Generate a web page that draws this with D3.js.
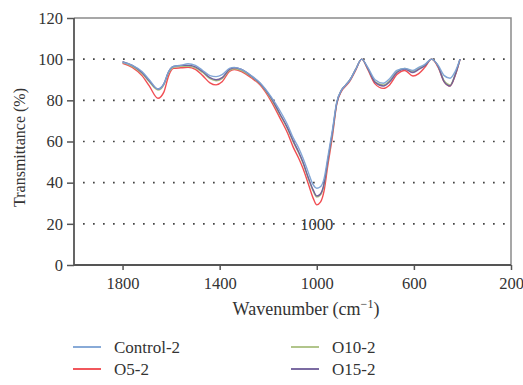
<!DOCTYPE html>
<html>
<head>
<meta charset="utf-8">
<script src="https://cdn.jsdelivr.net/npm/d3@7/dist/d3.min.js"></script>
<style>
  html, body { margin: 0; padding: 0; background: #fff; }
  svg { display: block; }
  text { font-family: "Liberation Serif", "DejaVu Serif", serif; fill: #333; }
</style>
</head>
<body>
<svg id="chart" width="523" height="385"></svg>
<script>
// FTIR spectra: wavenumber (cm-1) and transmittance (%) for each sample
const wavenumbers = [1800, 1760, 1720, 1690, 1654, 1630, 1610, 1590, 1560, 1530, 1500, 1470, 1440, 1415, 1390, 1360, 1340, 1310, 1270, 1234, 1190, 1152, 1120, 1098, 1075, 1057, 1035, 1015, 1000, 985, 970, 955, 935, 918, 898, 880, 863, 840, 815, 790, 760, 726, 700, 670, 637, 604, 580, 555, 527, 500, 475, 451, 430, 410];

const control2 = [98.5, 97, 94, 90, 85.5, 88, 94, 96.5, 97, 97.8, 97, 94.5, 92, 91.5, 92.5, 95.5, 96, 95, 92, 88.5, 82, 75, 68, 62, 57, 52, 45, 39, 37.3, 38, 42, 52, 66, 79, 85, 87.5, 90, 95, 100, 96, 90, 88.3, 90.5, 94.5, 95.5, 94.5, 96, 97.5, 100, 97, 92, 90.7, 94, 100];
const o5_2 = [98, 96, 92, 87, 81, 84, 92, 95.5, 95.8, 96, 95, 92, 88.5, 87.5, 89, 94, 95, 94, 91, 87.5, 80, 71.5, 64, 57.5, 52, 47, 39.5, 32.5, 29.2, 30.5, 36, 48, 63, 78, 84.5, 87, 89.5, 94.5, 100, 95, 88, 85.8, 87.5, 92.5, 94.5, 91.8, 93, 96, 100, 96, 89, 87, 92, 100];
const o10_2 = [98.5, 96.5, 93, 89, 85, 87.5, 93.5, 96, 96.5, 96.5, 95.8, 93.5, 90.5, 89.5, 90.5, 94.5, 95.3, 94.5, 91.5, 88, 81, 73, 66, 60, 54.5, 49.5, 42, 36, 33, 34, 39, 50, 64.5, 78.5, 85, 87.5, 90, 95, 100, 95.5, 89, 87.5, 89.5, 94, 95.5, 94, 95.5, 97, 100, 96.5, 89.5, 87.5, 92.5, 100];
const o15_2 = [98.8, 97, 93.5, 89.5, 85.5, 88, 94, 96.5, 97, 97, 96.3, 94, 91, 90, 91, 95, 95.8, 95, 91.8, 88.3, 81.5, 73.5, 66.5, 60.5, 55, 50, 42.5, 36.5, 33.5, 34.5, 39.5, 50.5, 65, 78.5, 85, 87.5, 90, 95, 100, 95.5, 88.8, 87, 89, 93.5, 95.2, 93.5, 95, 96.8, 100, 96.5, 89, 87, 92.3, 100];

const seriesNames = ["Control-2", "O5-2", "O10-2", "O15-2"];
const seriesColors = ["#7ba1d3", "#f0454a", "#a9bf7e", "#6c5b98"];
const seriesValues = [control2, o5_2, o10_2, o15_2];

const xTicks = [1800, 1400, 1000, 600, 200];
const yTicks = [0, 20, 40, 60, 80, 100, 120];
const gridValues = [20, 40, 60, 80, 100];

const svg = d3.select("#chart");
const margin = { left: 74, right: 12, top: 18, bottom: 120 };
const W = 523, H = 385;
const tickFont = 16.5;

const x = d3.scaleLinear().domain([2000, 200]).range([margin.left, W - margin.right]);
const y = d3.scaleLinear().domain([0, 120]).range([H - margin.bottom, margin.top]);

// dotted gridlines
svg.append("g").selectAll("line").data(gridValues).join("line")
  .attr("x1", x(2000) + 9).attr("x2", x(200))
  .attr("y1", d => y(d)).attr("y2", d => y(d))
  .attr("stroke", "#444").attr("stroke-width", 1.7)
  .attr("stroke-dasharray", "1.7,8.3")
  .attr("stroke-linecap", "butt");

// frame (top and right)
svg.append("path")
  .attr("d", `M${x(2000)},${y(120)}H${x(200)}V${y(0)}`)
  .attr("fill", "none").attr("stroke", "#8a8a8a").attr("stroke-width", 1.5);

// y axis
const yAxis = svg.append("g")
  .attr("transform", `translate(${x(2000)},0)`)
  .call(d3.axisLeft(y).tickValues(yTicks).tickSize(7).tickPadding(4).tickFormat(d3.format("d")));
// x axis
const xAxis = svg.append("g")
  .attr("transform", `translate(0,${y(0)})`)
  .call(d3.axisBottom(x).tickValues(xTicks).tickSize(5).tickPadding(7).tickFormat(d3.format("d")));

[yAxis, xAxis].forEach(g => {
  g.select(".domain").attr("stroke", "#555").attr("stroke-width", 1.8);
  g.selectAll(".tick line").attr("stroke", "#555").attr("stroke-width", 1.5);
  g.selectAll(".tick text").attr("font-size", tickFont).attr("fill", "#333")
    .style("font-family", "'Liberation Serif', serif");
});
xAxis.select(".domain").attr("d", `M${x(2000)},0H${x(200)}`);
yAxis.select(".domain").attr("d", `M0,${y(0)}V${y(120)}`);

// spectra
const line = d3.line()
  .x((d, i) => x(wavenumbers[i]))
  .y(d => y(d))
  .curve(d3.curveMonotoneX);

const order = [1, 2, 3, 0];
svg.append("g").selectAll("path").data(order).join("path")
  .attr("d", k => line(seriesValues[k]))
  .attr("fill", "none")
  .attr("stroke", k => seriesColors[k])
  .attr("stroke-width", 1.4)
  .attr("stroke-opacity", 0.95);

// peak annotation
svg.append("text")
  .attr("x", x(1000)).attr("y", y(20) + 6)
  .attr("text-anchor", "middle")
  .attr("font-size", tickFont)
  .text("1000");

// axis titles
svg.append("text")
  .attr("transform", `translate(25,${(y(0) + y(120)) / 2 + 6}) rotate(-90)`)
  .attr("text-anchor", "middle")
  .attr("font-size", 16)
  .text("Transmittance (%)");

const xt = svg.append("text")
  .attr("x", 306).attr("y", 315)
  .attr("text-anchor", "middle")
  .attr("font-size", 18);
xt.append("tspan").text("Wavenumber (cm");
xt.append("tspan").attr("font-size", 12).attr("dy", -7).text("\u22121");
xt.append("tspan").attr("dy", 7).text(")");

// legend
const legendPos = [
  { lx: 73, ly: 347 },
  { lx: 73, ly: 369 },
  { lx: 291, ly: 347 },
  { lx: 291, ly: 369 }
];
const legend = svg.append("g").selectAll("g").data(seriesNames).join("g")
  .attr("transform", (d, i) => `translate(${legendPos[i].lx},${legendPos[i].ly})`);
legend.append("line")
  .attr("x1", 0).attr("x2", 28).attr("y1", 0).attr("y2", 0)
  .attr("stroke", (d, i) => seriesColors[i]).attr("stroke-width", 1.8);
legend.append("text")
  .attr("x", 41).attr("y", 6)
  .attr("font-size", 17)
  .text(d => d);
</script>
</body>
</html>
